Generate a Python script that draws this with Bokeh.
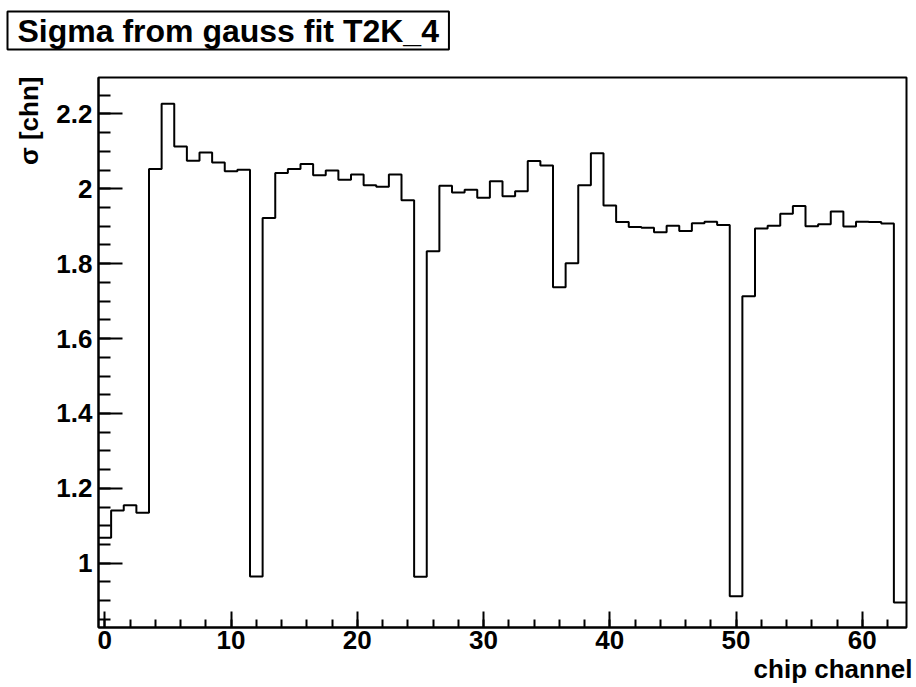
from bokeh.plotting import figure
from bokeh.models import FixedTicker, Title, CustomJSTickFormatter
from bokeh.embed import file_html
from bokeh.resources import INLINE

# ---- data ----
channels = list(range(64))
sigma = [
    1.068, 1.141, 1.155, 1.135, 2.053, 2.227, 2.113, 2.075,
    2.097, 2.070, 2.047, 2.051, 0.965, 1.922, 2.042, 2.053,
    2.066, 2.036, 2.049, 2.024, 2.038, 2.009, 2.005, 2.038,
    1.969, 0.964, 1.833, 2.008, 1.990, 1.997, 1.976, 2.020,
    1.980, 1.993, 2.074, 2.062, 1.737, 1.801, 2.009, 2.095,
    1.955, 1.911, 1.898, 1.896, 1.884, 1.901, 1.887, 1.908,
    1.912, 1.903, 0.912, 1.713, 1.894, 1.901, 1.933, 1.954,
    1.900, 1.905, 1.939, 1.899, 1.912, 1.911, 1.907, 0.895,
]
x_major_ticks = [0, 10, 20, 30, 40, 50, 60]
x_minor_ticks = [0, 2, 4, 6, 8, 10, 12, 14, 16, 18, 20, 22, 24, 26, 28, 30,
                 32, 34, 36, 38, 40, 42, 44, 46, 48, 50, 52, 54, 56, 58, 60, 62]
y_major_ticks = [1.0, 1.2, 1.4, 1.6, 1.8, 2.0, 2.2]
y_minor_ticks = [0.85, 0.9, 0.95, 1.0, 1.05, 1.1, 1.15, 1.2, 1.25, 1.3, 1.35,
                 1.4, 1.45, 1.5, 1.55, 1.6, 1.65, 1.7, 1.75, 1.8, 1.85, 1.9,
                 1.95, 2.0, 2.05, 2.1, 2.15, 2.2, 2.25]
title_text = "Sigma from gauss fit T2K_4"
x_title = "chip channel"
y_title = "\u03c3 [chn]"

FONT = "Liberation Sans"

# histogram outline from bin edges
hx, hy = [], []
for c, v in zip(channels, sigma):
    hx += [c - 0.5, c + 0.5]
    hy += [v, v]

p = figure(width=916, height=687, x_range=(-0.5, 63.5), y_range=(0.8285, 2.297),
           output_backend="svg", toolbar_location=None,
           min_border_left=98, min_border_right=10, min_border_top=77, min_border_bottom=60)
p.background_fill_color = "white"
p.border_fill_color = "white"
p.outline_line_color = "black"
p.outline_line_width = 2
p.xgrid.visible = False
p.ygrid.visible = False

p.line(hx, hy, line_color="black", line_width=2)

for ax in (p.xaxis[0], p.yaxis[0]):
    ax.axis_line_width = 2
    ax.major_tick_line_width = 2
    ax.minor_tick_line_width = 2
    ax.major_tick_out = 0
    ax.minor_tick_out = 0
    ax.major_label_text_font = FONT
    ax.major_label_text_font_style = "bold"
    ax.major_label_text_font_size = "26px"
    ax.major_label_text_color = "black"
    ax.axis_label = None

p.xaxis[0].ticker = FixedTicker(ticks=x_major_ticks, minor_ticks=x_minor_ticks)
p.xaxis[0].major_tick_in = 16
p.xaxis[0].minor_tick_in = 8
p.xaxis[0].major_label_standoff = 3

p.yaxis[0].ticker = FixedTicker(ticks=y_major_ticks, minor_ticks=y_minor_ticks)
p.yaxis[0].major_tick_in = 24
p.yaxis[0].minor_tick_in = 12
p.yaxis[0].major_label_standoff = 6
p.yaxis[0].formatter = CustomJSTickFormatter(code="return tick.toFixed(1).replace(/\\.0$/, '')")

# axis titles (ROOT style: right / top aligned)
p.add_layout(Title(text=x_title, align="right", offset=-6, standoff=0,
                   text_font=FONT, text_font_style="bold", text_font_size="26px",
                   text_color="black"), "below")
p.add_layout(Title(text=y_title, align="right", offset=-1, standoff=19,
                   text_font=FONT, text_font_style="bold", text_font_size="26px",
                   text_color="black"), "left")

# spacer between frame and boxed title
p.add_layout(Title(text=" ", standoff=25, text_font_size="1px"), "above")
# boxed title
p.add_layout(Title(text=title_text, align="left", offset=-91, standoff=0,
                   vertical_align="bottom",
                   text_font=FONT, text_font_style="bold", text_font_size="32px",
                   text_color="black",
                   border_line_color="black", border_line_width=2,
                   background_fill_color="white", padding=(10, 1)), "above")

open("out.html", "w").write(file_html(p, INLINE))
